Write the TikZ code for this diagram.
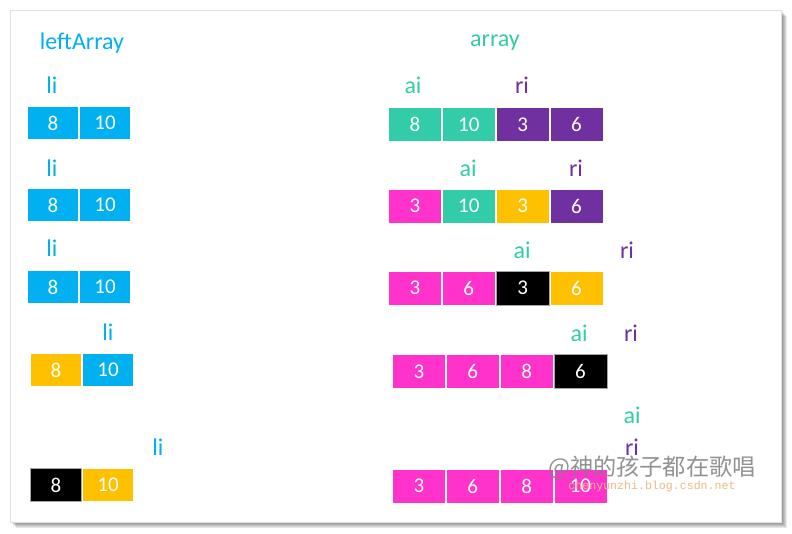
\documentclass[tikz,border=0pt]{standalone}
\usepackage{fontspec}
\setmainfont{Carlito}
\newfontfamily\cjkfont{Noto Sans CJK SC}
\newfontfamily\urlfont{Liberation Mono}
\usetikzlibrary{positioning}
\definecolor{leftblue}{RGB}{0,176,240}
\definecolor{aigreen}{RGB}{51,204,168}
\definecolor{ripurple}{RGB}{112,48,160}
\definecolor{donepink}{RGB}{255,51,204}
\definecolor{cmporange}{RGB}{255,192,0}
\definecolor{urlorange}{RGB}{238,186,130}

\begin{document}
\begin{tikzpicture}[x=1pt,y=-1pt,
  cell/.style={minimum width=51.2,minimum height=33.2,inner sep=0pt,draw=white,
               line width=0.8pt,text=white,font=\fontsize{21}{24}\selectfont},
  rcell/.style={cell,minimum width=53,minimum height=34.2},
  dark/.style={fill=black,draw=black!35},
  tag/.style={inner sep=0pt,font=\fontsize{24}{28}\selectfont}]
  \useasboundingbox (0,0) rectangle (792,533);
  % sheet with its shadow
  \foreach \d in {1,...,6}
    \fill[black,opacity=0.09] (10+\d,10+\d) rectangle (781+\d,522+\d);
  \filldraw[fill=white,draw=black!12] (10,10) rectangle (781,522);

  % titles
  \node[tag,text=leftblue] (lefttitle) at (82,43) {leftArray};
  \node[tag,text=aigreen] (arraytitle) at (495,43) {array};

  % leftArray, step by step
  \node[tag,text=leftblue] (li1) at (52,85) {li};
  \node[cell,fill=leftblue] (l1a) at (53,123) {8};
  \node[cell,fill=leftblue,right=0pt of l1a] (l1b) {10};

  \node[tag,text=leftblue] (li2) at (52,168) {li};
  \node[cell,fill=leftblue] (l2a) at (53,205) {8};
  \node[cell,fill=leftblue,right=0pt of l2a] (l2b) {10};

  \node[tag,text=leftblue] (li3) at (52,248) {li};
  \node[cell,fill=leftblue] (l3a) at (53,287) {8};
  \node[cell,fill=leftblue,right=0pt of l3a] (l3b) {10};

  \node[tag,text=leftblue] (li4) at (108,332) {li};
  \node[cell,fill=cmporange] (l4a) at (56,370) {8};
  \node[cell,fill=leftblue,right=0pt of l4a] (l4b) {10};

  \node[tag,text=leftblue] (li5) at (158,447) {li};
  \node[cell,dark] (l5a) at (56,485) {8};
  \node[cell,fill=cmporange,right=0pt of l5a] (l5b) {10};

  % array, step by step
  \node[tag,text=aigreen] (ai1) at (413,85) {ai};
  \node[tag,text=ripurple] (ri1) at (522,85) {ri};
  \node[rcell,fill=aigreen] (a1a) at (415,124.5) {8};
  \node[rcell,fill=aigreen,right=0pt of a1a] (a1b) {10};
  \node[rcell,fill=ripurple,right=0pt of a1b] (a1c) {3};
  \node[rcell,fill=ripurple,right=0pt of a1c] (a1d) {6};

  \node[tag,text=aigreen] (ai2) at (468,168) {ai};
  \node[tag,text=ripurple] (ri2) at (576,168) {ri};
  \node[rcell,fill=donepink] (a2a) at (415,206) {3};
  \node[rcell,fill=aigreen,right=0pt of a2a] (a2b) {10};
  \node[rcell,fill=cmporange,right=0pt of a2b] (a2c) {3};
  \node[rcell,fill=ripurple,right=0pt of a2c] (a2d) {6};

  \node[tag,text=aigreen] (ai3) at (522,250) {ai};
  \node[tag,text=ripurple] (ri3) at (627,250) {ri};
  \node[rcell,fill=donepink] (a3a) at (415,288) {3};
  \node[rcell,fill=donepink,right=0pt of a3a] (a3b) {6};
  \node[rcell,dark,right=0pt of a3b] (a3c) {3};
  \node[rcell,fill=cmporange,right=0pt of a3c] (a3d) {6};

  \node[tag,text=aigreen] (ai4) at (579,333) {ai};
  \node[tag,text=ripurple] (ri4) at (631,333) {ri};
  \node[rcell,fill=donepink] (a4a) at (419,371.5) {3};
  \node[rcell,fill=donepink,right=0pt of a4a] (a4b) {6};
  \node[rcell,fill=donepink,right=0pt of a4b] (a4c) {8};
  \node[rcell,dark,right=0pt of a4c] (a4d) {6};

  \node[tag,text=aigreen] (ai5) at (632,415) {ai};
  \node[tag,text=ripurple] (ri5) at (632,447) {ri};
  \node[rcell,fill=donepink] (a5a) at (419,486) {3};
  \node[rcell,fill=donepink,right=0pt of a5a] (a5b) {6};
  \node[rcell,fill=donepink,right=0pt of a5b] (a5c) {8};
  \node[rcell,fill=donepink,right=0pt of a5c] (a5d) {10};

  % watermark
  \node[inner sep=0pt,text=black!50,opacity=0.85,
        font=\cjkfont\fontsize{23.2}{28}\selectfont] (mark) at (652,468) {@神的孩子都在歌唱};
  \node[inner sep=0pt,text=urlorange,
        font=\urlfont\fontsize{11.6}{14}\selectfont] (url) at (652,486) {chenyunzhi.blog.csdn.net};
\end{tikzpicture}
\end{document}
